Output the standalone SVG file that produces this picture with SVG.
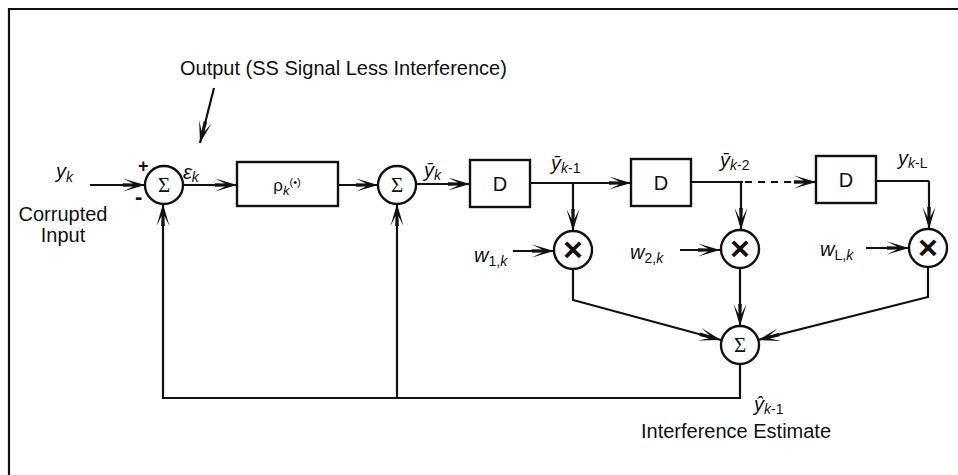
<svg xmlns="http://www.w3.org/2000/svg" width="958" height="475" viewBox="0 0 958 475">
<style>
.ln{fill:none;stroke:#111;stroke-width:2.2}
.nd{fill:#fff;stroke:#111;stroke-width:2.4}
.t{font-family:"Liberation Sans",Arial,sans-serif;font-size:20px;fill:#111}
.i{font-style:italic}
.s{font-size:14px}
.sig{font-family:"Liberation Serif","DejaVu Serif",serif;font-size:21px;fill:#111}
.mul{font-family:"Liberation Sans",Arial,sans-serif;font-size:34px;font-weight:bold;fill:#111}
</style>
<defs>
<marker id="ah" viewBox="-22 -7 23 14" refX="0" refY="0" markerWidth="23" markerHeight="14" markerUnits="userSpaceOnUse" orient="auto">
<path d="M0,0 L-22,-6.5 L-12,-1.4 L-22,-1.8 L-22,1.8 L-12,1.4 L-22,6.5 Z" fill="#111"/>
</marker>
</defs>
<rect width="958" height="475" fill="#fff"/>
<g id="frame"><path class="ln" d="M9,475 L9,9 L958,9"/></g>
<g id="connectors">
<path class="ln" d="M214,88 L200,143" marker-end="url(#ah)"/>
<path class="ln" d="M90,185 L145,185" marker-end="url(#ah)"/>
<path class="ln" d="M183,185 L237,185" marker-end="url(#ah)"/>
<path class="ln" d="M338,185 L378,185" marker-end="url(#ah)"/>
<path class="ln" d="M416,184 L470,184" marker-end="url(#ah)"/>
<path class="ln" d="M530,183 L631,183" marker-end="url(#ah)"/>
<path class="ln" d="M691,182 L743,182"/>
<path class="ln" d="M745,182 L798,182" stroke-dasharray="7,6"/>
<path class="ln" d="M796,182 L816,182" marker-end="url(#ah)"/>
<path class="ln" d="M876,181 L929,181"/>
<path class="ln" d="M573,183 L573,231" marker-end="url(#ah)"/>
<path class="ln" d="M741,182 L741,230" marker-end="url(#ah)"/>
<path class="ln" d="M929,181 L929,229" marker-end="url(#ah)"/>
<path class="ln" d="M513,251 L554,251" marker-end="url(#ah)"/>
<path class="ln" d="M680,250 L720,250" marker-end="url(#ah)"/>
<path class="ln" d="M866,248 L909,248" marker-end="url(#ah)"/>
<path class="ln" d="M573,269 L573,300 L721,340" marker-end="url(#ah)"/>
<path class="ln" d="M740,268 L740,326" marker-end="url(#ah)"/>
<path class="ln" d="M928,267 L928,297 L758,340" marker-end="url(#ah)"/>
<path class="ln" d="M740,364 L740,398 L163,398 L163,204" marker-end="url(#ah)"/>
<path class="ln" d="M397,398 L397,204" marker-end="url(#ah)"/>
</g>
<g id="sum1"><circle class="nd" cx="164" cy="185" r="19"/><text class="sig" x="164" y="192" text-anchor="middle">Σ</text></g>
<g id="rho"><rect class="nd" x="237" y="162" width="101" height="44"/><text class="t" x="287" y="191" text-anchor="middle" style="font-size:17px">ρ<tspan class="i" style="font-size:13px" dy="4">k</tspan><tspan style="font-size:11px" dy="-9">(•)</tspan></text></g>
<g id="sum2"><circle class="nd" cx="397" cy="185" r="19"/><text class="sig" x="397" y="192" text-anchor="middle">Σ</text></g>
<g id="d1"><rect class="nd" x="470" y="160" width="60" height="47"/><text class="t" x="500" y="191" text-anchor="middle">D</text></g>
<g id="d2"><rect class="nd" x="631" y="159" width="60" height="47"/><text class="t" x="661" y="190" text-anchor="middle">D</text></g>
<g id="d3"><rect class="nd" x="816" y="156" width="60" height="47"/><text class="t" x="846" y="187" text-anchor="middle">D</text></g>
<g id="mul1"><circle class="nd" cx="573" cy="250" r="19"/><text class="mul" x="573" y="261" text-anchor="middle">×</text></g>
<g id="mul2"><circle class="nd" cx="740" cy="249" r="19"/><text class="mul" x="740" y="260" text-anchor="middle">×</text></g>
<g id="mul3"><circle class="nd" cx="928" cy="248" r="19"/><text class="mul" x="928" y="259" text-anchor="middle">×</text></g>
<g id="sum3"><circle class="nd" cx="740" cy="345" r="19"/><text class="sig" x="740" y="352" text-anchor="middle">Σ</text></g>
<g id="labels">
<text class="t" x="180" y="75">Output (SS Signal Less Interference)</text>
<text class="t i" x="56" y="178">y<tspan class="s" dy="4">k</tspan></text>
<text class="t" x="63" y="221" text-anchor="middle">Corrupted</text>
<text class="t" x="63" y="242" text-anchor="middle">Input</text>
<text class="t" x="138" y="172" style="font-weight:bold;font-size:18px">+</text>
<text class="t" x="135" y="204" style="font-weight:bold;font-size:22px">-</text>
<text class="t i" x="183" y="179">ε<tspan class="s" dy="3">k</tspan></text>
<text class="t i" x="424" y="177">ȳ<tspan class="s" dy="3">k</tspan></text>
<text class="t" x="551" y="170"><tspan class="i">ȳ</tspan><tspan class="s" dy="3"><tspan class="i">k</tspan>-1</tspan></text>
<text class="t" x="720" y="167"><tspan class="i">ȳ</tspan><tspan class="s" dy="3"><tspan class="i">k</tspan>-2</tspan></text>
<text class="t" x="898" y="165"><tspan class="i">y</tspan><tspan class="s" dy="3"><tspan class="i">k</tspan>-L</tspan></text>
<text class="t" x="474" y="262"><tspan class="i">w</tspan><tspan class="s" dy="4">1,<tspan class="i">k</tspan></tspan></text>
<text class="t" x="630" y="259"><tspan class="i">w</tspan><tspan class="s" dy="4">2,<tspan class="i">k</tspan></tspan></text>
<text class="t" x="820" y="256"><tspan class="i">w</tspan><tspan class="s" dy="4">L,<tspan class="i">k</tspan></tspan></text>
<text class="t" x="754" y="411"><tspan class="i">ŷ</tspan><tspan class="s" dy="3"><tspan class="i">k</tspan>-1</tspan></text>
<text class="t" x="736" y="438" text-anchor="middle">Interference Estimate</text>
</g>
</svg>
